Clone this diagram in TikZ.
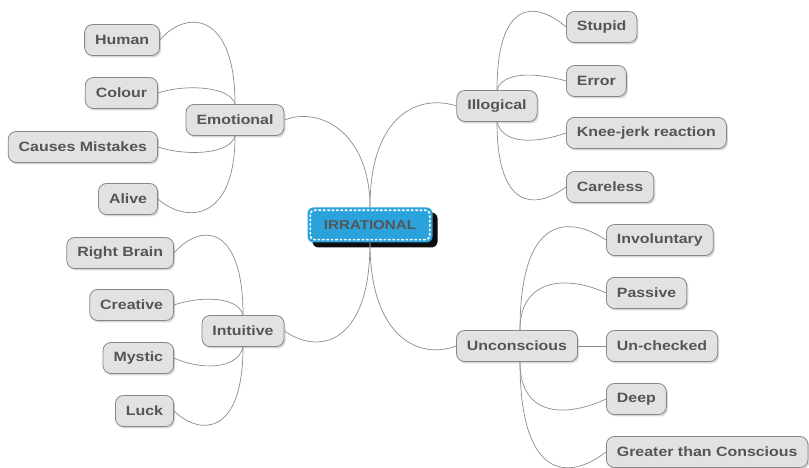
\documentclass[tikz,border=0pt]{standalone}
\usepackage{fontspec}
\setmainfont{Liberation Sans}[FakeStretch=1.18]
\usetikzlibrary{shadows}
\definecolor{txt}{RGB}{85,85,85}
\definecolor{bx}{RGB}{226,226,226}
\definecolor{bd}{RGB}{135,135,135}
\definecolor{ln}{RGB}{140,140,140}
\definecolor{rootblue}{RGB}{42,162,220}
\tikzset{
  topic/.style={draw=bd, fill=bx, rounded corners=8pt, line width=0.8pt,
    minimum height=31pt, inner xsep=10.5pt, inner ysep=0pt, text=txt,
    font=\fontsize{13.5}{16}\selectfont\bfseries,
    drop shadow={shadow xshift=1.5pt,shadow yshift=-2pt,fill=black!25,opacity=0.6}},
  rootbox/.style={fill=rootblue, rounded corners=6pt, minimum width=125pt,
    minimum height=35pt, inner xsep=0pt, text=txt,
    font=\fontsize{12.8}{15}\selectfont\bfseries,
    drop shadow={shadow xshift=5pt,shadow yshift=-5pt,fill=black,opacity=0.95}},
  conn/.style={draw=ln, line width=0.7pt}
}
\begin{document}
\begin{tikzpicture}[x=1pt,y=1pt]
\useasboundingbox[fill=white] (0,0) rectangle (809,468);
% root
\node[rootbox] (root) at (370,243) {IRRATIONAL};
\draw[white, line width=1.6pt, rounded corners=4pt, dash pattern=on 2.6pt off 1.8pt]
  ([shift={(3pt,-3pt)}]root.north west) rectangle ([shift={(-3pt,3pt)}]root.south east);
% main topics
\node[topic] (emo) at (235,348) {Emotional};
\node[topic] (ill) at (497,362) {Illogical};
\node[topic] (int) at (243,137) {Intuitive};
\node[topic] (unc) at (517,122) {Unconscious};
% Emotional children
\node[topic, anchor=east] (human) at (160,428) {Human};
\node[topic, anchor=east] (colour) at (158,375) {Colour};
\node[topic, anchor=east] (causes) at (158,321) {Causes Mistakes};
\node[topic, anchor=east] (alive) at (158,269) {Alive};
% Illogical children
\node[topic, anchor=west] (stupid) at (566,441) {Stupid};
\node[topic, anchor=west] (error) at (566,387) {Error};
\node[topic, anchor=west] (knee) at (566,335) {Knee-jerk reaction};
\node[topic, anchor=west] (careless) at (566,281) {Careless};
% Intuitive children
\node[topic, anchor=east] (right) at (174,215) {Right Brain};
\node[topic, anchor=east] (creative) at (174,163) {Creative};
\node[topic, anchor=east] (mystic) at (174,110) {Mystic};
\node[topic, anchor=east] (luck) at (174,57) {Luck};
% Unconscious children
\node[topic, anchor=west] (invol) at (606,228) {Involuntary};
\node[topic, anchor=west] (passive) at (606,175) {Passive};
\node[topic, anchor=west] (unch) at (606,122) {Un-checked};
\node[topic, anchor=west] (deep) at (606,69) {Deep};
\node[topic, anchor=west] (greater) at (606,16) {Greater than Conscious};
% root connectors
\draw[conn] (root.north) .. controls (370,355) and (420,374) .. (ill.west);
\draw[conn] (root.north) .. controls (370,335) and (320,362) .. (emo.east);
\draw[conn] (root.south) .. controls (370,125) and (320,112) .. (int.east);
\draw[conn] (root.south) .. controls (370,130) and (420,108) .. (unc.west);
% Emotional connectors
\draw[conn] (emo.north) .. controls (235,458) and (185,458) .. (human.east);
\draw[conn] (emo.north) .. controls (230,382) and (185,384) .. (colour.east);
\draw[conn] (emo.south) .. controls (230,313) and (185,312) .. (causes.east);
\draw[conn] (emo.south) .. controls (235,245) and (185,245) .. (alive.east);
% Illogical connectors
\draw[conn] (ill.north) .. controls (497,468) and (535,468) .. (stupid.west);
\draw[conn] (ill.north) .. controls (502,396) and (535,396) .. (error.west);
\draw[conn] (ill.south) .. controls (502,324) and (535,324) .. (knee.west);
\draw[conn] (ill.south) .. controls (497,258) and (535,258) .. (careless.west);
% Intuitive connectors
\draw[conn] (int.north) .. controls (243,245) and (200,245) .. (right.east);
\draw[conn] (int.north) .. controls (238,172) and (200,172) .. (creative.east);
\draw[conn] (int.south) .. controls (238,98) and (200,98) .. (mystic.east);
\draw[conn] (int.south) .. controls (243,32) and (200,32) .. (luck.east);
% Unconscious connectors
\draw[conn] ([xshift=3pt]unc.north) .. controls (520,255) and (570,252) .. (invol.west);
\draw[conn] ([xshift=3pt]unc.north) .. controls (520,192) and (570,192) .. (passive.west);
\draw[conn] (unc.east) -- (unch.west);
\draw[conn] ([xshift=3pt]unc.south) .. controls (520,48) and (570,52) .. (deep.west);
\draw[conn] ([xshift=3pt]unc.south) .. controls (520,-14) and (570,-12) .. (greater.west);
\end{tikzpicture}
\end{document}
